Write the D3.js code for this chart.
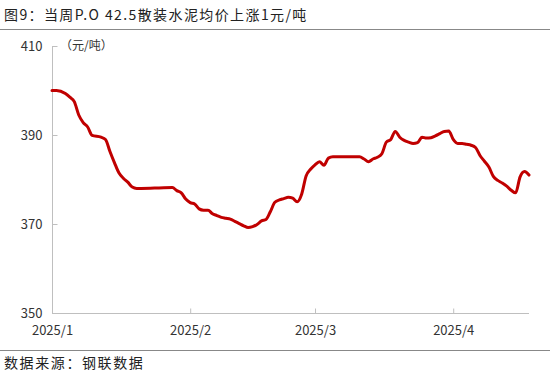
<!DOCTYPE html>
<html><head><meta charset="utf-8">
<script src="https://cdn.jsdelivr.net/npm/d3@7"></script>
<style>body{margin:0;background:#fff}svg{display:block}text{font-family:"Noto Sans CJK SC","Noto Sans",sans-serif}</style>
</head><body><svg id="c" width="550" height="381"></svg>
<script>
const title = "图9：当周P.O 42.5散装水泥均价上涨1元/吨";
const source = "数据来源：钢联数据";
const unit = "（元/吨）";
const yTicks = [350, 370, 390, 410];
const xTickDates = ["2025-01-01", "2025-02-01", "2025-03-01", "2025-04-01"];
const xTickLabels = ["2025/1", "2025/2", "2025/3", "2025/4"];
const dayOffsets = [0,1,3,4,5,6,7,8,9,11,12,13,14,15,16,17,18,19,20,24,27,28,29,30,31,32,33,34,35,36,37,38,39,40,41,42,43,44,45,46,47,48,49,50,51,52,53,54,55,56,57,58,59,60,61,62,63,69,70,71,72,73,74,75,76,77,78,79,80,81,82,83,84,85,86,87,88,89,90,91,92,93,94,95,96,97,98,99,100,101,102,103,104,105,106,107];
const prices = [400.0,400.0,399.3,398.5,397.5,394.5,392.8,391.8,389.9,389.5,389.0,386.3,383.8,381.5,380.3,379.4,378.3,378.0,378.0,378.1,378.2,377.5,377.0,375.6,374.8,374.5,373.4,373.1,373.1,372.3,371.9,371.5,371.3,371.1,370.6,370.1,369.6,369.2,369.4,369.9,370.7,371.0,372.8,374.9,375.4,375.7,376.0,375.8,375.0,376.7,380.8,382.3,383.3,384.0,383.2,384.8,385.1,385.1,384.6,384.0,384.6,385.0,385.8,388.4,389.0,390.8,389.5,388.8,388.4,388.1,388.3,389.5,389.3,389.4,389.8,390.3,390.8,390.9,389.0,388.1,388.1,387.9,387.7,387.2,385.4,384.1,382.8,380.7,379.8,379.2,378.5,377.6,377.0,380.6,381.8,381.0];

const start = new Date(2025,0,1);
const data = dayOffsets.map((d,i)=>({date:d3.timeDay.offset(start,d), v:prices[i]}));
const svg = d3.select("#c");
const x = d3.scaleTime().domain([start, new Date(2025,3,18)]).range([52,529]);
const y = d3.scaleLinear().domain([350,410]).range([313,46]);
const axisColor = "#bfbfbf";

svg.append("text").attr("x",4).attr("y",20).attr("font-size",14).attr("letter-spacing",1.4).attr("fill","#222").text(title);
svg.append("line").attr("x1",0).attr("x2",550).attr("y1",29.5).attr("y2",29.5).attr("stroke","#888").attr("stroke-width",1);
svg.append("line").attr("x1",0).attr("x2",550).attr("y1",350.5).attr("y2",350.5).attr("stroke","#888").attr("stroke-width",1);
svg.append("text").attr("x",4).attr("y",368).attr("font-size",14).attr("letter-spacing",1.6).attr("fill","#222").text(source);

// y axis
const ya = svg.append("g").attr("transform","translate(52.5,0)")
  .call(d3.axisLeft(y).tickValues(yTicks).tickSize(-5).tickPadding(10).tickFormat(d3.format("d")));
ya.select(".domain").attr("stroke",axisColor).attr("d",`M0,${y(410)}V${y(350)}`);
ya.selectAll(".tick line").attr("stroke",axisColor);
ya.selectAll(".tick text").attr("font-size",13).attr("fill","#333").attr("font-family","Roboto, 'Noto Sans', sans-serif");

// x axis
const xa = svg.append("g").attr("transform",`translate(0,${y(350)+0.5})`)
  .call(d3.axisBottom(x).tickValues(xTickDates.map(s=>d3.timeParse("%Y-%m-%d")(s))).tickSize(-5).tickPadding(12)
    .tickFormat((d,i)=>xTickLabels[i]));
xa.select(".domain").attr("stroke",axisColor).attr("d",`M52,0H529`);
xa.selectAll(".tick line").attr("stroke",axisColor);
xa.selectAll(".tick text").attr("font-size",13).attr("fill","#333").attr("font-family","Roboto, 'Noto Sans', sans-serif");

svg.append("text").attr("x",60).attr("y",y(410)+4).attr("font-size",12).attr("fill","#333").text(unit);

svg.append("path").datum(data)
  .attr("fill","none").attr("stroke","#c00000").attr("stroke-width",3).attr("stroke-linejoin","round").attr("stroke-linecap","round")
  .attr("d", d3.line().x(d=>x(d.date)).y(d=>y(d.v)).curve(d3.curveMonotoneX));
</script></body></html>
